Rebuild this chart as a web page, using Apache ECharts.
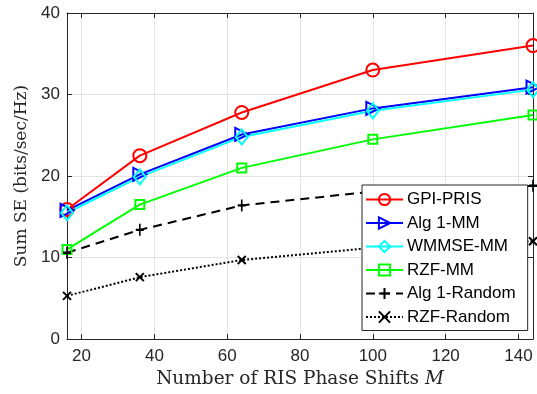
<!DOCTYPE html>
<html>
<head>
<meta charset="utf-8">
<script src="https://cdn.jsdelivr.net/npm/echarts@6/dist/echarts.min.js"></script>
<style>
  html, body { margin: 0; padding: 0; background: #fff; }
  #main { width: 537px; height: 394px; }
</style>
</head>
<body>
<div id="main"></div>
<script>
// RIS phase shifts M
const phaseShifts = [16, 36, 64, 100, 144];
const xTicks = [20, 40, 60, 80, 100, 120, 140];

const gpiPris    = [15.9, 22.5, 27.8, 33.0, 36.0];
const alg1MM     = [15.8, 20.2, 25.1, 28.3, 30.9];
const wmmseMM    = [15.5, 19.9, 24.8, 28.0, 30.6];
const rzfMM      = [11.0, 16.5, 21.0, 24.5, 27.5];
const alg1Random = [10.6, 13.4, 16.4, 18.1, 18.8];
const rzfRandom  = [5.3, 7.6, 9.7, 11.2, 12.0];

const axisColor = '#262626';
const gridColor = '#e3e3e3';
const tickFont = 'Liberation Sans';
const nameFont = 'DejaVu Serif';

const pair = (ys) => phaseShifts.map((x, i) => [x, ys[i]]);

const mkSeries = (name, ys, color, symbol, size, extra) => Object.assign({
    name: name,
    type: 'line',
    data: pair(ys),
    symbol: symbol,
    symbolSize: size,
    showAllSymbol: true,
    lineStyle: { color: color, width: 2 },
    itemStyle: { color: 'rgba(0,0,0,0)', borderColor: color, borderWidth: 2 },
    emphasis: { disabled: true },
    z: 3
}, extra || {});

const chart = echarts.init(document.getElementById('main'));

const option = {
    animation: false,
    grid: { left: 67, right: 4, top: 13, bottom: 54, show: false },
    legend: {
        orient: 'vertical',
        left: 362,
        top: 185,
        itemWidth: 37,
        itemHeight: 14,
        itemGap: 6.5,
        padding: [6, 12, 5, 3],
        backgroundColor: '#fff',
        borderColor: axisColor,
        borderWidth: 1,
        textStyle: { fontFamily: tickFont, fontSize: 17, color: '#000', padding: [0, 0, 0, -1] },
        data: ['GPI-PRIS', 'Alg 1-MM', 'WMMSE-MM', 'RZF-MM', 'Alg 1-Random', 'RZF-Random']
    },
    xAxis: [{
        type: 'value',
        min: 16,
        max: 144,
        splitNumber: 6,
        name: 'Number of RIS Phase Shifts {i|M}',
        nameLocation: 'middle',
        nameGap: 27,
        nameTextStyle: {
            fontFamily: nameFont, fontSize: 18.5, color: axisColor,
            rich: { i: { fontFamily: nameFont, fontStyle: 'italic', fontSize: 18.5, color: axisColor } }
        },
        axisLine: { show: true, onZero: false, lineStyle: { color: axisColor, width: 1 } },
        axisTick: { show: true, inside: true, length: 5, customValues: xTicks, lineStyle: { color: axisColor } },
        axisLabel: { customValues: xTicks, margin: 9, fontFamily: tickFont, fontSize: 17, color: axisColor },
        splitLine: { show: true, lineStyle: { color: gridColor, width: 1 } }
    }, {
        type: 'value',
        position: 'top',
        min: 16,
        max: 144,
        axisLine: { show: true, onZero: false, lineStyle: { color: axisColor, width: 1 } },
        axisTick: { show: true, inside: true, length: 5, customValues: xTicks, lineStyle: { color: axisColor } },
        axisLabel: { show: false },
        splitLine: { show: false }
    }],
    yAxis: [{
        type: 'value',
        min: 0,
        max: 40,
        interval: 10,
        name: 'Sum SE (bits/sec/Hz)',
        nameLocation: 'middle',
        nameGap: 35,
        nameTextStyle: { fontFamily: nameFont, fontSize: 17, color: axisColor },
        axisLine: { show: true, onZero: false, lineStyle: { color: axisColor, width: 1 } },
        axisTick: { show: true, inside: true, length: 5, lineStyle: { color: axisColor } },
        axisLabel: { margin: 7, fontFamily: tickFont, fontSize: 17, color: axisColor },
        splitLine: { show: true, lineStyle: { color: gridColor, width: 1 } }
    }, {
        type: 'value',
        position: 'right',
        min: 0,
        max: 40,
        interval: 10,
        axisLine: { show: true, onZero: false, lineStyle: { color: axisColor, width: 1 } },
        axisTick: { show: true, inside: true, length: 5, lineStyle: { color: axisColor } },
        axisLabel: { show: false },
        splitLine: { show: false }
    }],
    series: [
        mkSeries('GPI-PRIS', gpiPris, '#ff0000', 'circle', 13),
        mkSeries('Alg 1-MM', alg1MM, '#0000ff', 'triangle', 13, { symbolRotate: -90 }),
        mkSeries('WMMSE-MM', wmmseMM, '#00ffff', 'diamond', [12, 15]),
        mkSeries('RZF-MM', rzfMM, '#00ff00', 'rect', 9),
        mkSeries('Alg 1-Random', alg1Random, '#000000', 'path://M5,0L5,10M0,5L10,5', [8, 12],
            { lineStyle: { color: '#000', width: 2, type: [9, 6] } }),
        mkSeries('RZF-Random', rzfRandom, '#000000', 'path://M0,0L10,10M0,10L10,0', 8,
            { lineStyle: { color: '#000', width: 2, type: [2, 2] } })
    ]
};

chart.setOption(option);
</script>
</body>
</html>
